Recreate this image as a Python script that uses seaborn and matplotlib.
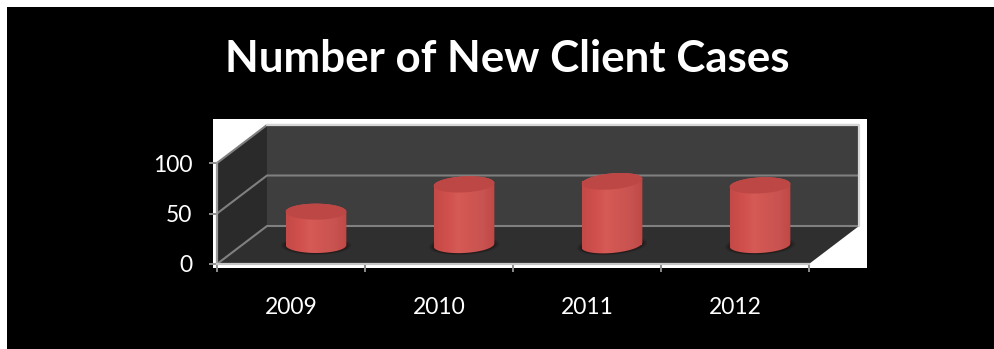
import numpy as np
import pandas as pd
import matplotlib
matplotlib.use("Agg")
import matplotlib.pyplot as plt
from matplotlib.patches import Polygon, Rectangle
from matplotlib.colors import LinearSegmentedColormap
import seaborn as sns

# Chart data
years = ["2009", "2010", "2011", "2012"]
new_cases = [33, 60, 63, 59]
y_ticks = [0, 50, 100]

# Slant of each cylinder's end caps, in value units
cap_tilt = [0.0, 1.5, 2.5, 1.5]

W, H = 995, 349
sns.set_theme(style="white")
plt.rcParams["font.family"] = ["Lato", "DejaVu Sans"]

fig = plt.figure(figsize=(W / 100, H / 100), dpi=100, facecolor="white")

def fx(p):
    return p / W

def fy(p):
    return 1 - p / H

# Black slide panel and the white plot backing
fig.patches.append(Rectangle((fx(7), 0), 1 - fx(7), fy(7), transform=fig.transFigure,
                             facecolor="black", edgecolor="none", zorder=-5))
fig.patches.append(Rectangle((fx(213), fy(268)), fx(654), 149 / H, transform=fig.transFigure,
                             facecolor="white", edgecolor="none", zorder=-4))

# Axes whose left and bottom edges are the front edges of the 3D box
px_per_cat = 148.0
px_per_val = 1.01
ax = fig.add_axes([fx(217), fy(264), fx(650), 145 / H])
ax.set_facecolor("none")

df = pd.DataFrame({"year": years, "cases": new_cases})
sns.barplot(data=df, x="year", y="cases", ax=ax, width=0.41, color="#cb524e", saturation=1,
            zorder=3.5, linewidth=0)
xlim = (-0.5, -0.5 + 650 / px_per_cat)
ylim = (0, 145 / px_per_val)

depth_x = 50 / px_per_cat
depth_y = 38 / px_per_val
x0, x1 = -0.5, 3.5

# Back wall, side wall and floor of the box
ax.add_patch(Polygon([(x0 + depth_x, depth_y), (x1 + depth_x, depth_y),
                      (x1 + depth_x, 100 + depth_y), (x0 + depth_x, 100 + depth_y)],
                     facecolor="#3e3e3e", edgecolor="none", zorder=1))
ax.add_patch(Polygon([(x0, 0), (x0 + depth_x, depth_y), (x0 + depth_x, 100 + depth_y), (x0, 100)],
                     facecolor="#2a2a2a", edgecolor="none", zorder=1))
ax.add_patch(Polygon([(x0, 0), (x1, 0), (x1 + depth_x, depth_y), (x0 + depth_x, depth_y)],
                     facecolor="#2f2f2f", edgecolor="none", zorder=1))

# Gridlines run along the side wall and the back wall
for v in y_ticks:
    ax.plot([x0, x0 + depth_x, x1 + depth_x], [v, v + depth_y, v + depth_y],
            color="#808080", lw=1.5, zorder=2, solid_capstyle="butt")
ax.plot([x0 + depth_x, x1 + depth_x, x1 + depth_x],
        [100 + depth_y, 100 + depth_y, depth_y], color="#d6d6d6", lw=1.6, zorder=2)

# Turn each bar into a shaded cylinder standing mid-way across the floor
shade = LinearSegmentedColormap.from_list(
    "cyl", ["#c44a47", "#cf4f4c", "#d65a56", "#cf5652", "#c95350", "#c04946"])
t = np.linspace(0, 2 * np.pi, 120)
cap_b = 8.0 / px_per_val
bars = [p for p in ax.patches if isinstance(p, Rectangle)][:len(years)]
for bar, value, tilt in zip(bars, new_cases, cap_tilt):
    bar.set_x(bar.get_x() + depth_x / 2)
    bar.set_y(depth_y / 2)
    cx = bar.get_x() + bar.get_width() / 2
    a = bar.get_width() / 2
    base = bar.get_y()
    top = base + value

    # Soft contact shadow on the floor
    for k, alpha in zip([1.16, 1.10, 1.04], [0.15, 0.2, 0.3]):
        ax.fill(cx + k * a * np.cos(t), base - 0.5 + k * cap_b * np.sin(t) + tilt * np.cos(t),
                color="#180c0c", alpha=alpha, lw=0, zorder=3)

    lower = t[(t >= np.pi) & (t <= 2 * np.pi)]
    upper = t[t <= np.pi]
    body_x = np.r_[cx + a * np.cos(lower), cx + a * np.cos(upper)]
    body_y = np.r_[base + cap_b * np.sin(lower) + tilt * np.cos(lower),
                   top + cap_b * np.sin(upper) + tilt * np.cos(upper)]
    body = Polygon(np.c_[body_x, body_y], closed=True, facecolor="none", edgecolor="none",
                   transform=ax.transData, zorder=4)
    ax.add_patch(body)
    im = ax.imshow(np.linspace(0, 1, 64)[None, :], cmap=shade, aspect="auto", zorder=4,
                   extent=(cx - a, cx + a, base - 2 * cap_b, top + 2 * cap_b))
    im.set_clip_path(body)

    # Top cap, darker than the body
    ax.fill(cx + a * np.cos(t), top + cap_b * np.sin(t) + tilt * np.cos(t),
            color="#bd4744", lw=0, zorder=5)

ax.set_xlim(*xlim)
ax.set_ylim(*ylim)

# Axis lines, ticks and labels
for side in ["top", "right"]:
    ax.spines[side].set_visible(False)
ax.spines["left"].set_color("#9a9a9a")
ax.spines["bottom"].set_color("#c4c4c4")
for side in ["left", "bottom"]:
    ax.spines[side].set_linewidth(1.6)
    ax.spines[side].set_zorder(6)
ax.spines["left"].set_bounds(0, 100)
ax.spines["bottom"].set_bounds(x0, x1)

ax.set_yticks(y_ticks)
ax.set_yticklabels([str(v) for v in y_ticks], color="white", fontsize=16.5)
ax.set_xticks(range(len(years)))
ax.set_xticklabels(years, color="white", fontsize=16.5)
ax.set_xticks(np.arange(x0, x1 + 0.5), minor=True)
ax.tick_params(axis="x", which="major", length=0, pad=24)
ax.tick_params(axis="x", which="minor", length=5.8, width=1.4, color="#8c8c8c", bottom=True)
ax.tick_params(axis="y", which="major", length=5.8, width=1.4, color="#8c8c8c", left=True, pad=12)
ax.set_xlabel("")
ax.set_ylabel("")

fig.text(fx(507.5), fy(72), "Number of New Client Cases", color="white", fontsize=31.6,
         fontweight="bold", ha="center", va="baseline")

fig.savefig("out.png", dpi=100, facecolor=fig.get_facecolor())
